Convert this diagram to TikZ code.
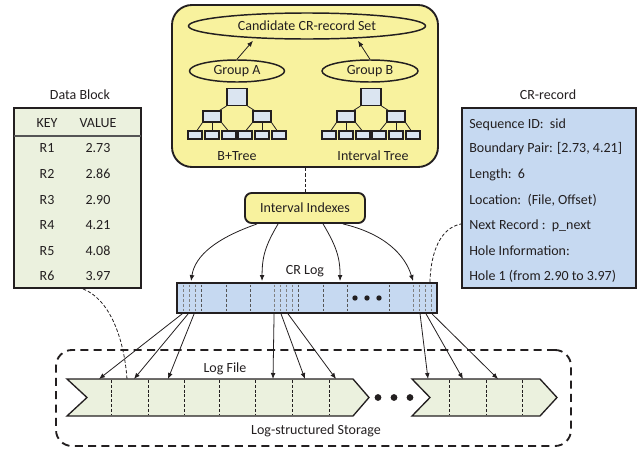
\documentclass[tikz,border=0pt]{standalone}
\usepackage{fontspec}
\setmainfont{Carlito}
\usetikzlibrary{shapes.geometric,arrows.meta,calc}
\definecolor{paleyellow}{HTML}{F8F29E}
\definecolor{palegreen}{HTML}{EBF1DE}
\definecolor{paleblue}{HTML}{C6D9F1}
\definecolor{boxblue}{HTML}{DBE5F1}
\definecolor{ink}{HTML}{231F20}
\definecolor{cellgray}{HTML}{555555}
\newcommand\upx{0.75pt}
\tikzset{
  heavy/.style={draw=ink, line width=1.4pt},
  lbl/.style={inner sep=0pt, text height=7.6pt, text depth=2pt},
  panelbox/.style={heavy, fill=paleyellow, rounded corners=15pt, inner sep=0pt,
    minimum width=266*\upx, minimum height=162*\upx},
  setoval/.style={ellipse, draw=ink, line width=1.1pt, inner sep=1pt},
  treebox/.style={draw=ink, line width=0.8pt, fill=boxblue, inner sep=0pt},
  treeline/.style={draw=ink, line width=0.6pt},
  idxbox/.style={heavy, fill=paleyellow, rounded corners=5pt, inner sep=0pt,
    minimum width=120*\upx, minimum height=30*\upx},
  logbar/.style={heavy, fill=paleblue, inner sep=0pt,
    minimum width=260*\upx, minimum height=30*\upx},
  tablebox/.style={heavy, inner sep=0pt, minimum width=127*\upx, minimum height=180*\upx},
  recbox/.style={heavy, inner sep=0pt, minimum width=174*\upx, minimum height=180*\upx},
  storebox/.style={draw=ink, line width=1.4pt, dash pattern=on 6pt off 4pt,
    rounded corners=12pt, inner sep=0pt, minimum width=515*\upx, minimum height=96*\upx},
  chev/.style={draw=ink, line width=1pt, fill=palegreen},
  celldash/.style={draw=cellgray, line width=0.6pt, dash pattern=on 2.2pt off 1.4pt},
  dashline/.style={draw=ink, line width=0.6pt, dash pattern=on 2.5pt off 1.5pt},
  arr/.style={draw=ink, line width=0.6pt, -{Latex[length=4.5pt,width=3.6pt]}},
  pics/ntree/.style={code={
    \node[treebox, minimum width=20*\upx, minimum height=17*\upx] (-r) at (0,0) {};
    \node[treebox, minimum width=18*\upx, minimum height=11*\upx] (-a) at (-25,19.5) {};
    \node[treebox, minimum width=18*\upx, minimum height=11*\upx] (-b) at (25,19.5) {};
    \foreach \k/\xx in {1/-42,2/-25,3/-8,4/8,5/25,6/42}
      \node[treebox, minimum width=14*\upx, minimum height=8*\upx] (-l\k) at (\xx,38) {};
    \draw[treeline] (-r.south west) -- ($(-a.north east)+(-2,0)$);
    \draw[treeline] (-r.south east) -- ($(-b.north west)+(2,0)$);
    \draw[treeline] (-a.south west) -- ($(-l1.north)+(2,0)$);
    \draw[treeline] (-a.south) -- (-l2.north);
    \draw[treeline] (-a.south east) -- ($(-l3.north)+(-1,0)$);
    \draw[treeline] (-b.south west) -- ($(-l4.north)+(1,0)$);
    \draw[treeline] (-b.south) -- (-l5.north);
    \draw[treeline] (-b.south east) -- ($(-l6.north)+(-2,0)$);
  }}
}
\begin{document}
\begin{tikzpicture}[x=0.75pt, y=-0.75pt, font=\fontsize{10.5}{12}\selectfont, text=ink]
\useasboundingbox (0,0) rectangle (639,450);

% ---------------- index panel ----------------
\node[panelbox] (panel) at (305,86) {};
\node[setoval, minimum width=237*\upx, minimum height=26*\upx] (cand) at (307,26) {Candidate CR-record Set};
\node[setoval, minimum width=95*\upx, minimum height=22*\upx] (ga) at (237,71) {Group A};
\node[setoval, minimum width=96*\upx, minimum height=22*\upx] (gb) at (370,71) {Group B};
\coordinate (candA) at ($(cand.south)+(-54,1)$);
\coordinate (candB) at ($(cand.south)+(51,1)$);
\draw[arr] (ga.north) -- (candA);
\draw[arr] (gb.north) -- (candB);

\pic (bt) at (237,97) {ntree};
\pic (it) at (371,97) {ntree};
\node[lbl] (btlabel) at (237,157) {B+Tree};
\node[lbl] (itlabel) at (373,157) {Interval Tree};

% ---------------- interval indexes ----------------
\node[idxbox] (ii) at (305,208) {Interval Indexes};
\draw[dashline] (panel.south) -- (ii.north);

% ---------------- CR log ----------------
\node[logbar] (crlog) at (307,298) {};
\node[lbl] (crlabel) at (305,271) {CR Log};
\foreach \xx in {183,189,195,274,280,286,292,413,419,425,431}
  \draw[celldash, draw=gray] (\xx,284.5) -- (\xx,311.5);
\foreach \xx in {201,226,250,298,323,347,389}
  \draw[celldash] (\xx,284.5) -- (\xx,311.5);
\foreach \xx in {355,367,379}
  \fill[ink] (\xx,298) circle (2.7);

% index -> log pointers
\coordinate (o1) at ($(ii.south west)+(13,0)$);
\coordinate (o2) at ($(ii.south west)+(34,0)$);
\coordinate (o3) at ($(ii.south west)+(79,0)$);
\coordinate (o4) at ($(ii.south west)+(99,0)$);
\coordinate (t1) at ($(crlog.north west)+(15,-1)$);
\coordinate (t2) at ($(crlog.north west)+(86,-1)$);
\coordinate (t3) at ($(crlog.north west)+(164,-1)$);
\coordinate (t4) at ($(crlog.north west)+(237,-1)$);
\draw[arr] (o1) .. controls +(-40,14) and +(4,-26) .. (t1);
\draw[arr] (o2) .. controls +(-13,22) and +(0,-24) .. (t2);
\draw[arr] (o3) .. controls +(13,22) and +(0,-24) .. (t3);
\draw[arr] (o4) .. controls +(42,10) and +(-8,-26) .. (t4);

% ---------------- data block ----------------
\node[lbl] (dblabel) at (80,96) {Data Block};
\node[tablebox, fill=palegreen] (db) at (77.5,198) {};
\draw[draw=cellgray, line width=1.1pt] (14,136) -- (141,136);
\node[lbl] (keyh) at (47,124) {KEY};
\node[lbl] (valh) at (98,124) {VALUE};
\foreach \k/\v/\yy in {1/2.73/149,2/2.86/175,3/2.90/201,4/4.21/226,5/4.08/252,6/3.97/277}{
  \node[lbl] (key\k) at (47,\yy) {R\k};
  \node[lbl] (val\k) at (98,\yy) {\v};
}

% ---------------- CR record ----------------
\node[lbl] (reclabel) at (548,96) {CR-record};
\node[recbox, fill=paleblue] (rec) at (549,198) {};
\foreach \t/\yy in {{Sequence ID:\ \ sid}/125,{Boundary Pair: [2.73, 4.21]}/149,{Length:\ \ 6}/175,
    {Location:\ \ (File, Offset)}/201,{Next Record :\ \ p\_next}/226,{Hole Information:}/252,
    {Hole 1 (from 2.90 to 3.97)}/277}
  \node[lbl, anchor=west] at (469,\yy) {\t};

\coordinate (crx) at ($(crlog.north east)+(-8,0)$);
\coordinate (recin) at ($(rec.south west)+(0,-65)$);
\draw[dashline] (crx) .. controls +(1,-32) and +(-20,4) .. (recin);

% ---------------- log-structured storage ----------------
\node[storebox] (store) at (313.5,398) {};
\node[lbl] (storelabel) at (316,431) {Log-structured Storage};
\node[lbl] (lflabel) at (225,369) {Log File};

\draw[chev] (67,379) -- (353,379) -- (369,397.5) -- (353,416) -- (67,416) -- (87,397.5) -- cycle;
\foreach \xx in {111,148,184,219,255,292,329}
  \draw[celldash, draw=ink] (\xx,380) -- (\xx,415);
\draw[chev] (412,379) -- (540,379) -- (557,397.5) -- (540,416) -- (412,416) -- (430,397.5) -- cycle;
\foreach \xx in {449,486,522}
  \draw[celldash, draw=ink] (\xx,380) -- (\xx,415);
\foreach \xx in {378,394,410}
  \fill[ink] (\xx,397.5) circle (3.4);

% data block -> log file
\coordinate (dbout) at ($(db.south west)+(70,0)$);
\coordinate (fdb) at (127,379);
\draw[dashline] (dbout) .. controls +(26,10) and +(-3,-42) .. (fdb);

% log -> log file pointers
\foreach \s/\e in {6/99,12/134,18/168,98/273,105/305,112/336,244/428,250/463,256/498}{
  \coordinate (ps\s) at ($(crlog.south west)+(\s,0)$);
  \coordinate (pe\e) at (\e,379);
  \draw[arr] (ps\s) -- (pe\e);
}
\end{tikzpicture}
\end{document}
